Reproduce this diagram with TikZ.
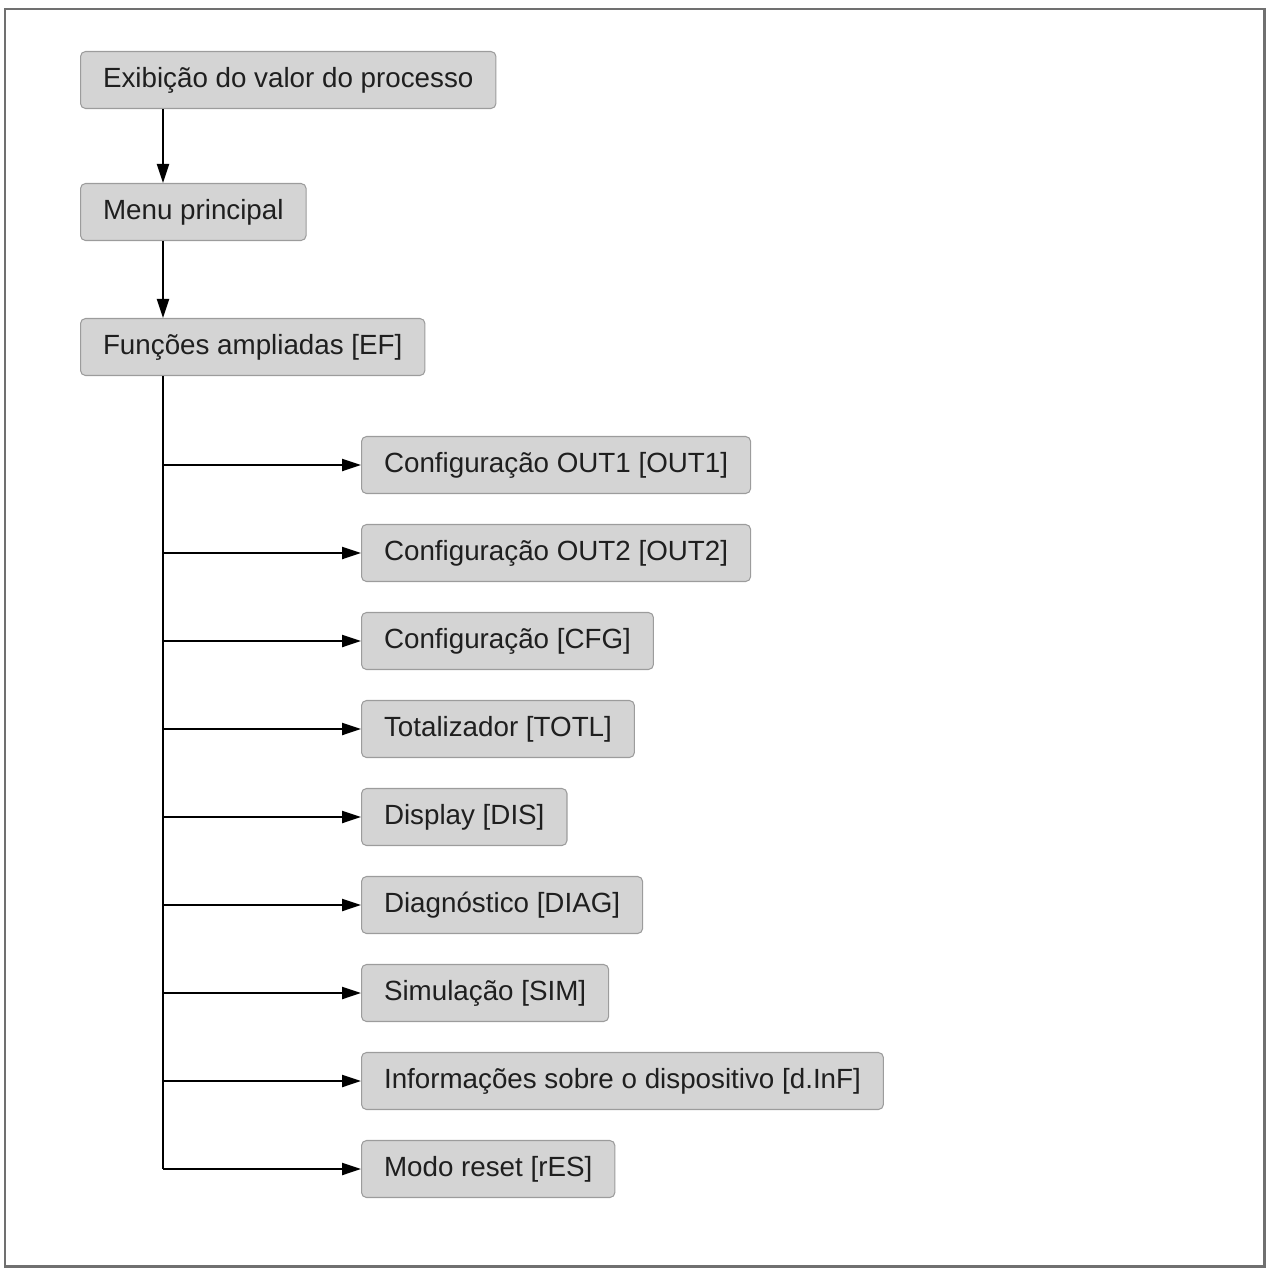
\documentclass[tikz,border=0pt]{standalone}
\usepackage{fontspec}
\setmainfont{Liberation Sans}
\usetikzlibrary{arrows.meta}
\definecolor{boxfill}{HTML}{D4D4D4}
\definecolor{boxline}{HTML}{9C9C9C}
\definecolor{framegray}{HTML}{707070}
\tikzset{
	menubox/.style={draw=boxline, fill=boxfill, line width=0.6pt, rounded corners=0.1cm, anchor=west, minimum height=1.14cm, inner xsep=0.45cm, font=\fontsize{15.8}{18}\selectfont, text=black!88},
	flow/.style={line width=1.3pt, -{Triangle[length=3.8mm,width=2.4mm]}},
	trunkline/.style={line width=1.3pt}
}

\begin{document}
\begin{tikzpicture}
			%%%%% START %%%%%
			
			\useasboundingbox (0, 0) rectangle (25.36, -25.4);
			\draw[line width=1.7pt, color=framegray] (0.1, -0.18) rectangle (25.28, -25.32);
			
			\node[menubox] (exib) at (1.6, -1.6) {Exibição do valor do processo};
			\node[menubox] (menu) at (1.6, -4.24) {Menu principal};
			\node[menubox] (fun) at (1.6, -6.94) {Funções ampliadas [EF]};
			
			\node[menubox] (out1) at (7.22, -9.3) {Configuração OUT1 [OUT1]};
			\node[menubox] (out2) at (7.22, -11.06) {Configuração OUT2 [OUT2]};
			\node[menubox] (cfg) at (7.22, -12.82) {Configuração [CFG]};
			\node[menubox] (totl) at (7.22, -14.58) {Totalizador [TOTL]};
			\node[menubox] (dis) at (7.22, -16.34) {Display [DIS]};
			\node[menubox] (diag) at (7.22, -18.1) {Diagnóstico [DIAG]};
			\node[menubox] (sim) at (7.22, -19.86) {Simulação [SIM]};
			\node[menubox] (dinf) at (7.22, -21.62) {Informações sobre o dispositivo [d.InF]};
			\node[menubox] (res) at (7.22, -23.38) {Modo reset [rES]};
			
			\coordinate (trunk) at (3.26, -23.38);
			
			\draw[flow] (exib.south -| trunk) -- (menu.north -| trunk);
			\draw[flow] (menu.south -| trunk) -- (fun.north -| trunk);
			
			\draw[trunkline] (fun.south -| trunk) -- (trunk);
			\draw[flow] (trunk) -- (res.west);
			
			\draw[flow] (out1.west -| trunk) -- (out1.west);
			\draw[flow] (out2.west -| trunk) -- (out2.west);
			\draw[flow] (cfg.west -| trunk) -- (cfg.west);
			\draw[flow] (totl.west -| trunk) -- (totl.west);
			\draw[flow] (dis.west -| trunk) -- (dis.west);
			\draw[flow] (diag.west -| trunk) -- (diag.west);
			\draw[flow] (sim.west -| trunk) -- (sim.west);
			\draw[flow] (dinf.west -| trunk) -- (dinf.west);
			
			%%%%% END %%%%%
		\end{tikzpicture}
\end{document}
